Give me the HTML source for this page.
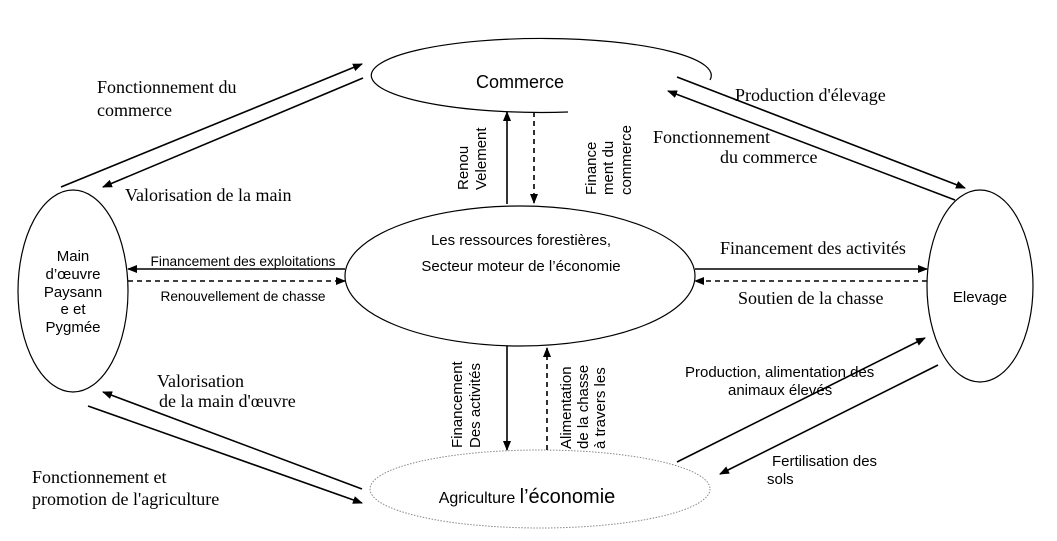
<!DOCTYPE html>
<html><head><meta charset="utf-8"><style>
html,body{margin:0;padding:0;background:#fff}
svg{display:block}
.s{font-family:"Liberation Sans",sans-serif;fill:#000}
.r{font-family:"Liberation Serif",serif;fill:#000}
</style></head><body>
<svg width="1057" height="541" viewBox="0 0 1057 541" xmlns="http://www.w3.org/2000/svg">
<defs>
<marker id="a" markerWidth="10" markerHeight="8" refX="9" refY="4" orient="auto" markerUnits="userSpaceOnUse">
<path d="M0,0 L10,4 L0,8 Z" fill="#000"/></marker>
</defs>
<g fill="none" stroke="#000" stroke-width="1.2">
<path d="M568,112 A170,37 0 1 1 710,80"/>
<ellipse cx="520" cy="276" rx="175" ry="70"/>
<ellipse cx="73" cy="291" rx="55" ry="101"/>
<ellipse cx="980" cy="286" rx="53" ry="96"/>
<ellipse cx="540" cy="489" rx="170" ry="39" stroke="#888" stroke-dasharray="1.5,1.5" stroke-width="1"/>
</g>
<g stroke="#000" stroke-width="1.6" fill="none">
<line x1="61" y1="187" x2="362" y2="64" marker-end="url(#a)"/>
<line x1="363" y1="78" x2="103" y2="187" marker-end="url(#a)"/>
<line x1="677" y1="77" x2="965" y2="188" marker-end="url(#a)"/>
<line x1="955" y1="200" x2="668" y2="91" marker-end="url(#a)"/>
<line x1="362" y1="489" x2="103" y2="392" marker-end="url(#a)"/>
<line x1="88" y1="406" x2="362" y2="503" marker-end="url(#a)"/>
<line x1="677" y1="462" x2="925" y2="338" marker-end="url(#a)"/>
<line x1="938" y1="365" x2="720" y2="474" marker-end="url(#a)"/>
<line x1="507" y1="204" x2="507" y2="112" marker-end="url(#a)"/>
<line x1="534" y1="112" x2="534" y2="203" stroke-dasharray="5,4" marker-end="url(#a)"/>
<line x1="345" y1="269" x2="128" y2="269" marker-end="url(#a)"/>
<line x1="128" y1="281" x2="345" y2="281" stroke-dasharray="5,4" marker-end="url(#a)"/>
<line x1="695" y1="269" x2="927" y2="269" marker-end="url(#a)"/>
<line x1="927" y1="281" x2="695" y2="281" stroke-dasharray="5,4" marker-end="url(#a)"/>
<line x1="507" y1="346" x2="507" y2="450" marker-end="url(#a)"/>
<line x1="547" y1="450" x2="547" y2="348" stroke-dasharray="5,4" marker-end="url(#a)"/>
</g>
<text class="s" x="520" y="88" font-size="18" text-anchor="middle">Commerce</text>
<text class="s" x="521" y="245" font-size="15" text-anchor="middle">Les  ressources forestières,</text>
<text class="s" x="521" y="271" font-size="15" text-anchor="middle">Secteur moteur de l’économie</text>
<g class="s" font-size="15" text-anchor="middle">
<text x="73" y="261">Main</text><text x="73" y="279">d’œuvre</text><text x="73" y="297">Paysann</text><text x="73" y="314">e et</text><text x="73" y="332">Pygmée</text>
</g>
<text class="s" x="980" y="302" font-size="15" text-anchor="middle">Elevage</text>
<text class="s" x="527" y="503" font-size="16" text-anchor="middle">Agriculture  <tspan font-size="20">l’économie</tspan></text>
<text class="s" x="243" y="266" font-size="13.7" text-anchor="middle">Financement des exploitations</text>
<text class="s" x="243" y="301" font-size="13.7" text-anchor="middle">Renouvellement de chasse</text>
<text class="s" x="685" y="377" font-size="15">Production, alimentation des</text>
<text class="s" x="728" y="395" font-size="15">animaux élevés</text>
<text class="s" x="772" y="466" font-size="15">Fertilisation des</text>
<text class="s" x="767" y="484" font-size="15">sols</text>
<g class="s" font-size="15">
<text transform="translate(468,190) rotate(-90)">Renou</text>
<text transform="translate(486,190) rotate(-90)">Velement</text>
<text transform="translate(596,195) rotate(-90)">Finance</text>
<text transform="translate(613,195) rotate(-90)">ment du</text>
<text transform="translate(631,195) rotate(-90)">commerce</text>
<text transform="translate(462,448) rotate(-90)">Financement</text>
<text transform="translate(480,448) rotate(-90)">Des activités</text>
<text transform="translate(571,449) rotate(-90)">Alimentation</text>
<text transform="translate(588,449) rotate(-90)">de la chasse</text>
<text transform="translate(605,449) rotate(-90)">à travers les</text>
</g>
<g class="r" font-size="18">
<text x="97" y="93">Fonctionnement du</text>
<text x="97" y="116">commerce</text>
<text x="125" y="201">Valorisation de la main</text>
<text x="735" y="101">Production d'élevage</text>
<text x="653" y="143">Fonctionnement</text>
<text x="720" y="163">du commerce</text>
<text x="720" y="254">Financement des activités</text>
<text x="738" y="304">Soutien de la chasse</text>
<text x="157" y="387">Valorisation</text>
<text x="159" y="407">de  la main d'œuvre</text>
<text x="32" y="483">Fonctionnement et</text>
<text x="32" y="505">promotion de l'agriculture</text>
</g>
</svg>
</body></html>
